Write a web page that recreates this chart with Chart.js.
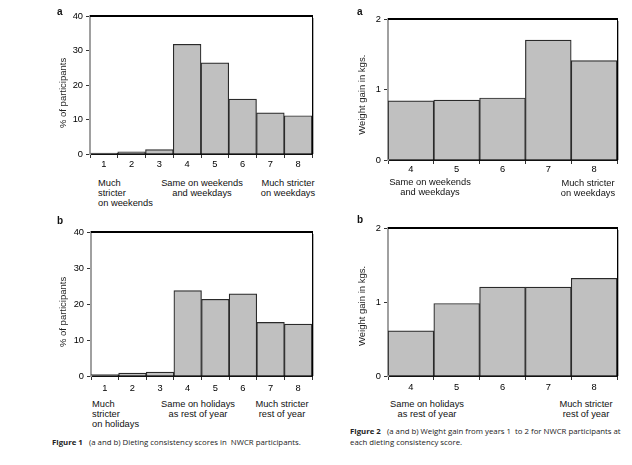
<!DOCTYPE html>
<html>
<head>
<meta charset="utf-8">
<script src="https://cdn.jsdelivr.net/npm/chart.js"></script>
<style>
  body { margin: 0; background: #fff; width: 632px; height: 465px; position: relative; overflow: hidden;
         font-family: "Liberation Sans", Arial, sans-serif; color: #111; }
  canvas { position: absolute; }
  .txt { position: absolute; font-size: 9.3px; line-height: 10px; white-space: nowrap; }
  .c { text-align: center; }
  .letter { position: absolute; font-weight: bold; font-size: 10px; }
  .cap { position: absolute; font-family: "Open Sans", sans-serif; font-size: 7.8px; line-height: 11px; white-space: nowrap; color: #222; }
  .cap b { font-weight: bold; }
</style>
</head>
<body>
<canvas id="c1a" width="270" height="170" style="left:50px;top:5px"></canvas>
<canvas id="c1b" width="270" height="175" style="left:50px;top:222px"></canvas>
<canvas id="c2a" width="285" height="175" style="left:340px;top:5px"></canvas>
<canvas id="c2b" width="285" height="180" style="left:340px;top:215px"></canvas>

<div class="letter" style="left:57px;top:6px">a</div>
<div class="letter" style="left:57px;top:215px">b</div>
<div class="letter" style="left:357px;top:6px">a</div>
<div class="letter" style="left:357px;top:214px">b</div>

<div class="txt" style="left:98px;top:178px">Much<br>stricter<br>on weekends</div>
<div class="txt c" style="left:152px;top:178px;width:100px">Same on weekends<br>and weekdays</div>
<div class="txt c" style="left:248px;top:178px;width:80px">Much stricter<br>on weekdays</div>

<div class="txt" style="left:92px;top:399px">Much<br>stricter<br>on holidays</div>
<div class="txt c" style="left:148px;top:399px;width:100px">Same on holidays<br>as rest of year</div>
<div class="txt c" style="left:242px;top:399px;width:80px">Much stricter<br>rest of year</div>

<div class="txt c" style="left:380px;top:177px;width:100px">Same on weekends<br>and weekdays</div>
<div class="txt c" style="left:548px;top:178px;width:80px">Much stricter<br>on weekdays</div>

<div class="txt c" style="left:377px;top:399px;width:100px">Same on holidays<br>as rest of year</div>
<div class="txt c" style="left:546px;top:399px;width:80px">Much stricter<br>rest of year</div>

<div class="cap" style="left:52px;top:437px"><b>Figure 1</b>&nbsp;&nbsp; (a and b) Dieting consistency scores in &nbsp;NWCR participants.</div>
<div class="cap" style="left:350px;top:426px"><b>Figure 2</b>&nbsp;&nbsp; (a and b) Weight gain from years 1 &nbsp;to 2 for NWCR participants at<br>each dieting consistency score.</div>

<script>
// dieting consistency scores (figure 1)
const allScores = ['1', '2', '3', '4', '5', '6', '7', '8'];
const weekendPct = [0.3, 0.6, 1.3, 31.8, 26.4, 15.9, 11.9, 11.1];
const holidayPct = [0.4, 0.8, 1.1, 23.7, 21.3, 22.8, 14.9, 14.4];

// weight gain by score (figure 2)
const gainScores = ['4', '5', '6', '7', '8'];
const weekendGain = [0.84, 0.85, 0.88, 1.70, 1.41];
const holidayGain = [0.61, 0.98, 1.20, 1.20, 1.32];

const pctTicks = { max: 40, step: 10 };
const kgTicks = { max: 2, step: 1 };

// draws the black top / right edges of the plot box
const framePlugin = {
    id: 'frame',
    afterDraw(chart) {
        const { ctx, chartArea: a } = chart;
        ctx.save();
        ctx.strokeStyle = '#000';
        ctx.lineWidth = 2;
        ctx.beginPath();
        ctx.moveTo(a.left, a.top);
        ctx.lineTo(a.right + 1, a.top);
        ctx.stroke();
        ctx.lineWidth = 1;
        ctx.beginPath();
        ctx.moveTo(a.right + 0.5, a.top);
        ctx.lineTo(a.right + 0.5, a.bottom);
        ctx.stroke();
        ctx.strokeStyle = '#b0b0b0';
        ctx.beginPath();
        ctx.moveTo(a.right + 1.5, a.top + 2);
        ctx.lineTo(a.right + 1.5, a.bottom);
        ctx.stroke();
        ctx.restore();
    }
};

function makeChart(id, labels, values, yt, title, geo) {
    const ctx = document.getElementById(id).getContext('2d');
    // trailing spaces nudge the centred axis title down, as in the original
    const shiftedTitle = title + ' '.repeat(geo.tshift);
    return new Chart(ctx, {
        type: 'bar',
        data: {
            labels: labels,
            datasets: [{
                data: values,
                backgroundColor: '#c0c0c0',
                borderColor: '#2a2a2a',
                borderWidth: 1.2,
                barPercentage: 1,
                categoryPercentage: 1
            }]
        },
        options: {
            responsive: false,
            animation: false,
            devicePixelRatio: 1,
            layout: { padding: { top: geo.top, right: geo.right, left: 0, bottom: 0 } },
            plugins: { legend: { display: false }, tooltip: { enabled: false } },
            scales: {
                x: {
                    grid: { drawOnChartArea: false, drawTicks: true, tickLength: 4, color: '#333', offset: true },
                    border: { display: true, color: '#111', width: 2 },
                    ticks: { color: '#000', font: { family: 'Liberation Sans', size: 9.3 }, padding: geo.xpad, maxRotation: 0 },
                    afterFit: s => { s.height = geo.xh; }
                },
                y: {
                    min: 0,
                    max: yt.max,
                    ticks: { stepSize: yt.step, color: '#000', font: { family: 'Liberation Sans', size: 9.3 }, padding: 3 },
                    grid: { drawOnChartArea: false, drawTicks: true, tickLength: 4, color: '#333' },
                    border: { display: true, color: '#a0a0a0', width: 2 },
                    title: {
                        display: true,
                        text: shiftedTitle,
                        color: '#222',
                        font: { family: 'Liberation Sans', size: 9.5 },
                        padding: { top: geo.tpad, bottom: 0 }
                    },
                    afterFit: s => { s.width = geo.yw; }
                }
            }
        },
        plugins: [framePlugin]
    });
}

makeChart('c1a', allScores, weekendPct, pctTicks, '% of participants',
    { top: 11, right: 8, yw: 40, xh: 21, xpad: 1, tpad: 7.5, tshift: 6 });
makeChart('c1b', allScores, holidayPct, pctTicks, '% of participants',
    { top: 10, right: 8, yw: 41, xh: 21, xpad: 3, tpad: 7.5, tshift: 6 });
makeChart('c2a', gainScores, weekendGain, kgTicks, 'Weight gain in kgs.',
    { top: 14, right: 8, yw: 48, xh: 20, xpad: 0, tpad: 17, tshift: 4 });
makeChart('c2b', gainScores, holidayGain, kgTicks, 'Weight gain in kgs.',
    { top: 13, right: 8, yw: 48, xh: 19, xpad: 2, tpad: 17, tshift: 3 });
</script>
</body>
</html>
